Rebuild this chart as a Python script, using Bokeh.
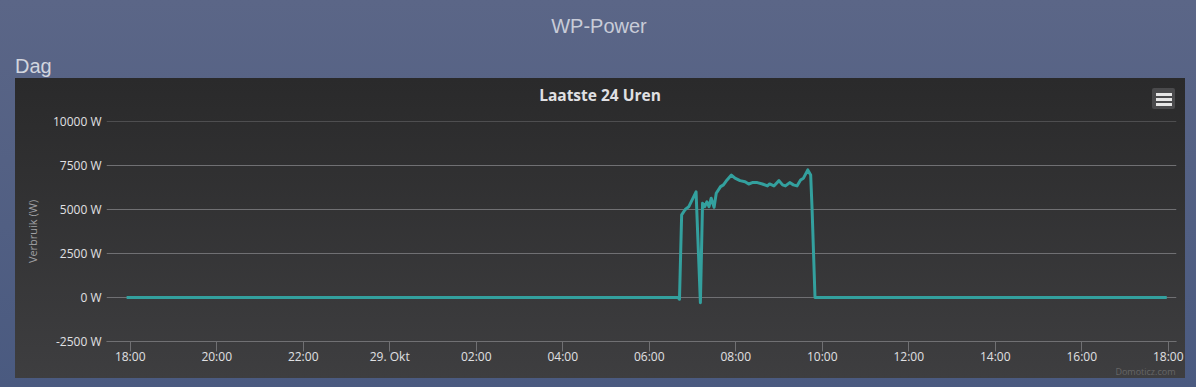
import pandas as pd
from bokeh.plotting import figure
from bokeh.layouts import column
from bokeh.models import (Range1d, FixedTicker, PrintfTickFormatter, Title, Div,
                          DatetimeTickFormatter, ColumnDataSource)
from bokeh.embed import file_html
from bokeh.resources import INLINE

# ---------------- data ----------------
page_title = "WP-Power"
section_title = "Dag"
chart_title = "Laatste 24 Uren"
y_axis_title = "Verbruik (W)"
credit = "Domoticz.com"

times = [
    "2023-10-28 17:55", "2023-10-29 06:40", "2023-10-29 06:42", "2023-10-29 06:45",
    "2023-10-29 06:50", "2023-10-29 06:55", "2023-10-29 07:05", "2023-10-29 07:11",
    "2023-10-29 07:14", "2023-10-29 07:17", "2023-10-29 07:20", "2023-10-29 07:23",
    "2023-10-29 07:26", "2023-10-29 07:30", "2023-10-29 07:33", "2023-10-29 07:39",
    "2023-10-29 07:43", "2023-10-29 07:48", "2023-10-29 07:54", "2023-10-29 07:59",
    "2023-10-29 08:06", "2023-10-29 08:13", "2023-10-29 08:18", "2023-10-29 08:23",
    "2023-10-29 08:30", "2023-10-29 08:37", "2023-10-29 08:44", "2023-10-29 08:47",
    "2023-10-29 08:53", "2023-10-29 09:00", "2023-10-29 09:05", "2023-10-29 09:09",
    "2023-10-29 09:15", "2023-10-29 09:20", "2023-10-29 09:25", "2023-10-29 09:30",
    "2023-10-29 09:34", "2023-10-29 09:40", "2023-10-29 09:44", "2023-10-29 09:46",
    "2023-10-29 09:50", "2023-10-29 17:58",
]
power_w = [
    0, 0, -100, 4700,
    5000, 5160, 6000, -300,
    5350, 5160, 5440, 5160,
    5640, 5120, 5920, 6300,
    6400, 6680, 6960, 6780,
    6640, 6580, 6450, 6530,
    6530, 6450, 6340, 6450,
    6340, 6640, 6400, 6340,
    6530, 6400, 6340, 6680,
    6780, 7250, 6960, 4970,
    0, 0,
]

y_ticks = [-2500, 0, 2500, 5000, 7500, 10000]

tick_times = [
    "2023-10-28 18:00", "2023-10-28 20:00", "2023-10-28 22:00", "2023-10-29 00:00",
    "2023-10-29 02:00", "2023-10-29 04:00", "2023-10-29 06:00", "2023-10-29 08:00",
    "2023-10-29 10:00", "2023-10-29 12:00", "2023-10-29 14:00", "2023-10-29 16:00",
    "2023-10-29 18:00",
]
tick_labels = ["18:00", "20:00", "22:00", "29. Okt", "02:00", "04:00", "06:00",
               "08:00", "10:00", "12:00", "14:00", "16:00", "18:00"]

x_start = "2023-10-28 17:27:07"
x_end = "2023-10-29 18:11:30"

# ---------------- helpers ----------------
def ms(s):
    return pd.Timestamp(s).value // 10**6

PAGE_W, PAGE_H = 1196, 387
HEAD_H = 112
TXT = "#e0e0e3"
GRID = "#707073"

# ---------------- header (page title, section, top of chart panel) ----------------
bar_css = "position:absolute;left:4px;width:16px;height:2.5px;background:#e6e6e6;"
header_html = (
    '<div style="position:relative;width:1196px;height:112px;'
    'font-family:\'Liberation Sans\',Arial,sans-serif;font-size:20px;line-height:20px;">'
    '<div style="position:absolute;left:0;top:16px;width:1198px;text-align:center;'
    'color:#c8ccd8;">' + page_title + '</div>'
    '<div style="position:absolute;left:15px;top:56px;color:#d2d5de;">'
    + section_title + '</div>'
    '<div style="position:absolute;left:15px;top:78px;width:1170px;height:34px;'
    'background:linear-gradient(to bottom,#2a2a2b,#2c2c2d);"></div>'
    '<div style="position:absolute;left:15px;top:87px;width:1170px;text-align:center;'
    'font-family:\'Open Sans\',sans-serif;font-weight:bold;font-size:15.5px;'
    'line-height:16px;color:' + TXT + ';">' + chart_title + '</div>'
    '<div style="position:absolute;left:1152px;top:88px;width:23px;height:21px;'
    'background:#4a4a4c;border-radius:2px;">'
    '<div style="' + bar_css + 'top:5px;"></div>'
    '<div style="' + bar_css + 'top:10px;"></div>'
    '<div style="' + bar_css + 'top:15px;"></div>'
    '</div></div>'
)
header = Div(text=header_html, width=PAGE_W, height=HEAD_H, margin=(0, 0, 0, 0))

# ---------------- chart ----------------
src = ColumnDataSource(dict(t=pd.to_datetime(times), v=power_w))

p = figure(width=1170, height=PAGE_H - HEAD_H, x_axis_type="datetime",
           x_range=Range1d(pd.Timestamp(x_start), pd.Timestamp(x_end)),
           y_range=Range1d(-2500.2, 10000.2),
           toolbar_location=None, output_backend="svg",
           min_border_left=91, min_border_right=9, min_border_top=9, min_border_bottom=46,
           background_fill_color=None, border_fill_color=None, outline_line_color=None,
           margin=(0, 11, 0, 15),
           styles={"background": "linear-gradient(to bottom, #2c2c2d, #3e3e40) "
                                 "0 0 / 1170px 266px no-repeat"})

p.line("t", "v", source=src, line_color="#33a09e", line_width=3, line_join="round")

# credit
p.add_layout(Title(text=credit, align="right", vertical_align="top", offset=1, standoff=-6,
                   text_font="Open Sans", text_font_style="normal",
                   text_font_size="9px", text_color="#666666"), "below")

# y axis
p.yaxis.ticker = FixedTicker(ticks=y_ticks)
p.yaxis.formatter = PrintfTickFormatter(format="%d W")
p.yaxis.axis_line_color = None
p.yaxis.major_tick_line_color = None
p.yaxis.major_tick_out = 0
p.yaxis.major_tick_in = 0
p.yaxis.minor_tick_line_color = None
p.yaxis.major_label_text_color = TXT
p.yaxis.major_label_text_font = "Open Sans"
p.yaxis.major_label_text_font_size = "12px"
p.yaxis.major_label_standoff = 5
p.yaxis.axis_label = y_axis_title
p.yaxis.axis_label_text_color = "#a0a0a3"
p.yaxis.axis_label_text_font = "Open Sans"
p.yaxis.axis_label_text_font_size = "11px"
p.yaxis.axis_label_text_font_style = "normal"
p.yaxis.axis_label_standoff = 10

# x axis
tick_ms = [ms(s) for s in tick_times]
p.xaxis.ticker = FixedTicker(ticks=tick_ms)
p.xaxis.formatter = DatetimeTickFormatter(hours="%H:%M")
p.xaxis.major_label_overrides = {m: lab for m, lab in zip(tick_ms, tick_labels)}
p.xaxis.axis_line_color = GRID
p.xaxis.major_tick_line_color = GRID
p.xaxis.major_tick_out = 10
p.xaxis.major_tick_in = 0
p.xaxis.minor_tick_line_color = None
p.xaxis.major_label_text_color = TXT
p.xaxis.major_label_text_font = "Open Sans"
p.xaxis.major_label_text_font_size = "12px"
p.xaxis.major_label_standoff = -4

p.xgrid.grid_line_color = None
p.ygrid.grid_line_color = GRID
p.ygrid.grid_line_width = 1

layout = column(header, p, width=PAGE_W, height=PAGE_H, spacing=0,
                styles={"background": "linear-gradient(to bottom, #5b6687, #4a5a80)"})

open("out.html", "w").write(file_html(layout, INLINE))
